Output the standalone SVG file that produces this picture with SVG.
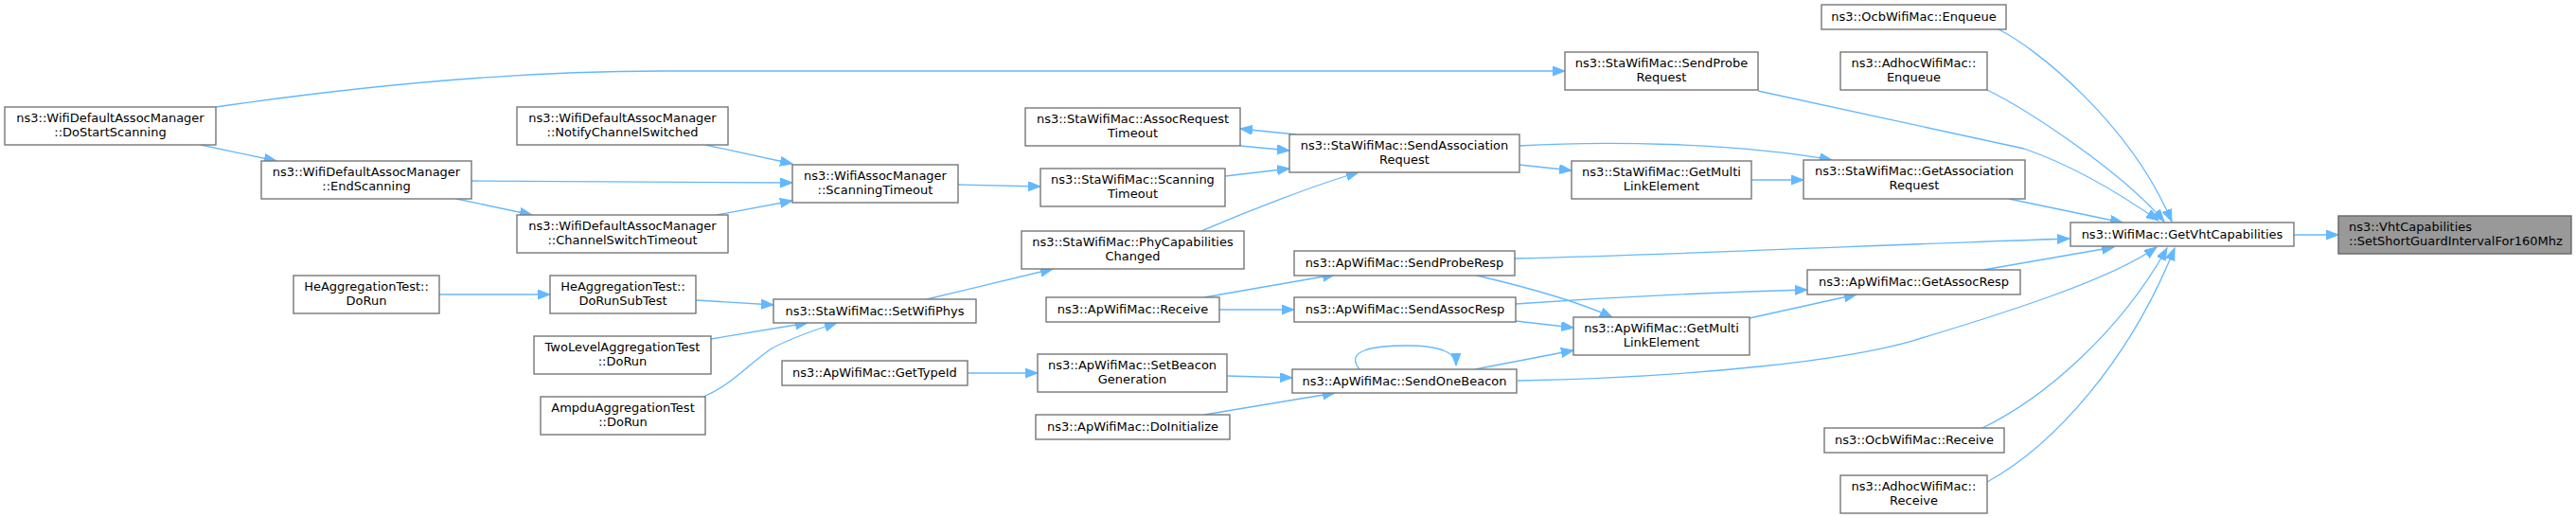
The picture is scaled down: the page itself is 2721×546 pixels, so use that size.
<svg xmlns="http://www.w3.org/2000/svg" width="2721" height="546" viewBox="0 0 2721 546">
<style>
.n rect{fill:#ffffff;stroke:#777777;stroke-width:1.4}
.n text{font-family:"DejaVu Sans",sans-serif;font-size:13px;fill:#000000;text-anchor:middle}
#n_target rect{fill:#999999;stroke:#666666}
#n_target text{text-anchor:start}
.e path{fill:none;stroke:#63b8ff;stroke-width:1.3;marker-end:url(#ah)}
</style>
<defs>
<marker id="ah" markerUnits="userSpaceOnUse" markerWidth="15" markerHeight="12" refX="13" refY="5" orient="auto">
<path d="M0,0 L13,5 L0,10 z" fill="#63b8ff" stroke="#63b8ff" stroke-width="1"/>
</marker>
</defs>
<rect x="0" y="0" width="2721" height="546" fill="#ffffff"/>
<g id="edges" class="e">
<path d="M2423,248 L2470,248"/>
<path d="M2111,31 C2150,50 2250,130 2294,234"/>
<path d="M2099,95 C2140,115 2240,180 2286,234"/>
<path d="M1857,96 L2138,157 C2190,175 2240,205 2280,233"/>
<path d="M2122,210 L2242,235"/>
<path d="M1600,273 C1800,268 2000,258 2186,252"/>
<path d="M2095,285 L2233,261"/>
<path d="M1603,402 C1800,398 1950,380 2020,360 C2120,330 2230,295 2278,261"/>
<path d="M2094,452 C2160,420 2240,350 2289,262"/>
<path d="M2099,509 C2170,470 2250,380 2297,262"/>
<path d="M228,113 C400,88 550,75 700,75 L1653,75"/>
<path d="M212,153 L292,170"/>
<path d="M498,191 L837,193"/>
<path d="M482,210 L562,227"/>
<path d="M745,153 L837,173"/>
<path d="M757,227 L837,212"/>
<path d="M1012,195 L1099,197"/>
<path d="M1294,186 L1362,178"/>
<path d="M1310,154 L1362,159"/>
<path d="M1369,142 L1310,136"/>
<path d="M1269,244 C1320,222 1390,195 1435,182"/>
<path d="M1605,174 L1660,180"/>
<path d="M1605,154 C1690,149 1830,150 1935,169"/>
<path d="M1850,190 L1905,190"/>
<path d="M464,311 L581,311"/>
<path d="M735,317 L817,322"/>
<path d="M751,358 L853,341"/>
<path d="M743,419 C775,405 790,385 815,368 C840,355 865,347 884,341"/>
<path d="M979,316 L1112,284"/>
<path d="M1272,314 L1410,290"/>
<path d="M1288,327 L1367,327"/>
<path d="M1560,291 C1620,305 1670,320 1703,335"/>
<path d="M1601,339 L1662,346"/>
<path d="M1601,321 C1700,314 1800,309 1909,306"/>
<path d="M1848,336 L1961,311"/>
<path d="M1558,390 L1662,370"/>
<path d="M1436,390 C1420,370 1450,365 1486,365 C1522,365 1538,372 1538,386"/>
<path d="M1296,397 L1365,399"/>
<path d="M1272,438 L1410,415"/>
<path d="M1022,394 L1096,394"/>
</g>
<g id="n_dostart" class="n"><rect x="5" y="113" width="223" height="40"/><text x="116.5" y="129">ns3::WifiDefaultAssocManager</text><text x="116.5" y="144">::DoStartScanning</text></g>
<g id="n_endscan" class="n"><rect x="276" y="170" width="222" height="40"/><text x="387" y="186">ns3::WifiDefaultAssocManager</text><text x="387" y="201">::EndScanning</text></g>
<g id="n_heagg" class="n"><rect x="310" y="291" width="154" height="40"/><text x="387" y="307">HeAggregationTest::</text><text x="387" y="322">DoRun</text></g>
<g id="n_notify" class="n"><rect x="546" y="113" width="223" height="40"/><text x="657.5" y="129">ns3::WifiDefaultAssocManager</text><text x="657.5" y="144">::NotifyChannelSwitched</text></g>
<g id="n_chsw" class="n"><rect x="546" y="227" width="223" height="40"/><text x="657.5" y="243">ns3::WifiDefaultAssocManager</text><text x="657.5" y="258">::ChannelSwitchTimeout</text></g>
<g id="n_subtest" class="n"><rect x="581" y="291" width="154" height="40"/><text x="658" y="307">HeAggregationTest::</text><text x="658" y="322">DoRunSubTest</text></g>
<g id="n_twolevel" class="n"><rect x="564" y="355" width="187" height="40"/><text x="657.5" y="371">TwoLevelAggregationTest</text><text x="657.5" y="386">::DoRun</text></g>
<g id="n_ampdu" class="n"><rect x="571" y="419" width="174" height="40"/><text x="658" y="435">AmpduAggregationTest</text><text x="658" y="450">::DoRun</text></g>
<g id="n_wamscan" class="n"><rect x="837" y="174" width="175" height="40"/><text x="924.5" y="190">ns3::WifiAssocManager</text><text x="924.5" y="205">::ScanningTimeout</text></g>
<g id="n_setphys" class="n"><rect x="817" y="316" width="214" height="25"/><text x="924" y="333">ns3::StaWifiMac::SetWifiPhys</text></g>
<g id="n_gettypeid" class="n"><rect x="826" y="381" width="196" height="26"/><text x="924" y="398">ns3::ApWifiMac::GetTypeId</text></g>
<g id="n_assoctimeout" class="n"><rect x="1083" y="114" width="227" height="40"/><text x="1196.5" y="130">ns3::StaWifiMac::AssocRequest</text><text x="1196.5" y="145">Timeout</text></g>
<g id="n_stascan" class="n"><rect x="1099" y="178" width="195" height="40"/><text x="1196.5" y="194">ns3::StaWifiMac::Scanning</text><text x="1196.5" y="209">Timeout</text></g>
<g id="n_phycap" class="n"><rect x="1079" y="244" width="235" height="40"/><text x="1196.5" y="260">ns3::StaWifiMac::PhyCapabilities</text><text x="1196.5" y="275">Changed</text></g>
<g id="n_apreceive" class="n"><rect x="1105" y="314" width="183" height="26"/><text x="1196.5" y="331">ns3::ApWifiMac::Receive</text></g>
<g id="n_setbeacon" class="n"><rect x="1096" y="374" width="200" height="40"/><text x="1196" y="390">ns3::ApWifiMac::SetBeacon</text><text x="1196" y="405">Generation</text></g>
<g id="n_doinit" class="n"><rect x="1094" y="438" width="205" height="26"/><text x="1196.5" y="455">ns3::ApWifiMac::DoInitialize</text></g>
<g id="n_sendassocreq" class="n"><rect x="1362" y="142" width="243" height="40"/><text x="1483.5" y="158">ns3::StaWifiMac::SendAssociation</text><text x="1483.5" y="173">Request</text></g>
<g id="n_sendproberesp" class="n"><rect x="1367" y="265" width="233" height="26"/><text x="1483.5" y="282">ns3::ApWifiMac::SendProbeResp</text></g>
<g id="n_sendassocresp" class="n"><rect x="1367" y="314" width="234" height="26"/><text x="1484" y="331">ns3::ApWifiMac::SendAssocResp</text></g>
<g id="n_sendonebeacon" class="n"><rect x="1365" y="390" width="237" height="25"/><text x="1483.5" y="407">ns3::ApWifiMac::SendOneBeacon</text></g>
<g id="n_sendprobereq" class="n"><rect x="1653" y="55" width="204" height="40"/><text x="1755" y="71">ns3::StaWifiMac::SendProbe</text><text x="1755" y="86">Request</text></g>
<g id="n_stamultilink" class="n"><rect x="1660" y="170" width="190" height="40"/><text x="1755" y="186">ns3::StaWifiMac::GetMulti</text><text x="1755" y="201">LinkElement</text></g>
<g id="n_apmultilink" class="n"><rect x="1662" y="335" width="186" height="40"/><text x="1755" y="351">ns3::ApWifiMac::GetMulti</text><text x="1755" y="366">LinkElement</text></g>
<g id="n_ocbenq" class="n"><rect x="1924" y="5" width="195" height="26"/><text x="2021.5" y="22">ns3::OcbWifiMac::Enqueue</text></g>
<g id="n_adhocenq" class="n"><rect x="1944" y="55" width="155" height="40"/><text x="2021.5" y="71">ns3::AdhocWifiMac::</text><text x="2021.5" y="86">Enqueue</text></g>
<g id="n_getassocreq" class="n"><rect x="1905" y="169" width="234" height="41"/><text x="2022" y="185">ns3::StaWifiMac::GetAssociation</text><text x="2022" y="200">Request</text></g>
<g id="n_getassocresp" class="n"><rect x="1909" y="285" width="225" height="26"/><text x="2021.5" y="302">ns3::ApWifiMac::GetAssocResp</text></g>
<g id="n_ocbrecv" class="n"><rect x="1927" y="452" width="190" height="26"/><text x="2022" y="469">ns3::OcbWifiMac::Receive</text></g>
<g id="n_adhocrecv" class="n"><rect x="1944" y="502" width="155" height="40"/><text x="2021.5" y="518">ns3::AdhocWifiMac::</text><text x="2021.5" y="533">Receive</text></g>
<g id="n_getvht" class="n"><rect x="2187" y="235" width="236" height="25"/><text x="2305" y="252">ns3::WifiMac::GetVhtCapabilities</text></g>
<g id="n_target" class="n"><rect x="2470" y="228" width="246" height="40"/><text x="2481" y="244">ns3::VhtCapabilities</text><text x="2481" y="259">::SetShortGuardIntervalFor160Mhz</text></g>
</svg>
